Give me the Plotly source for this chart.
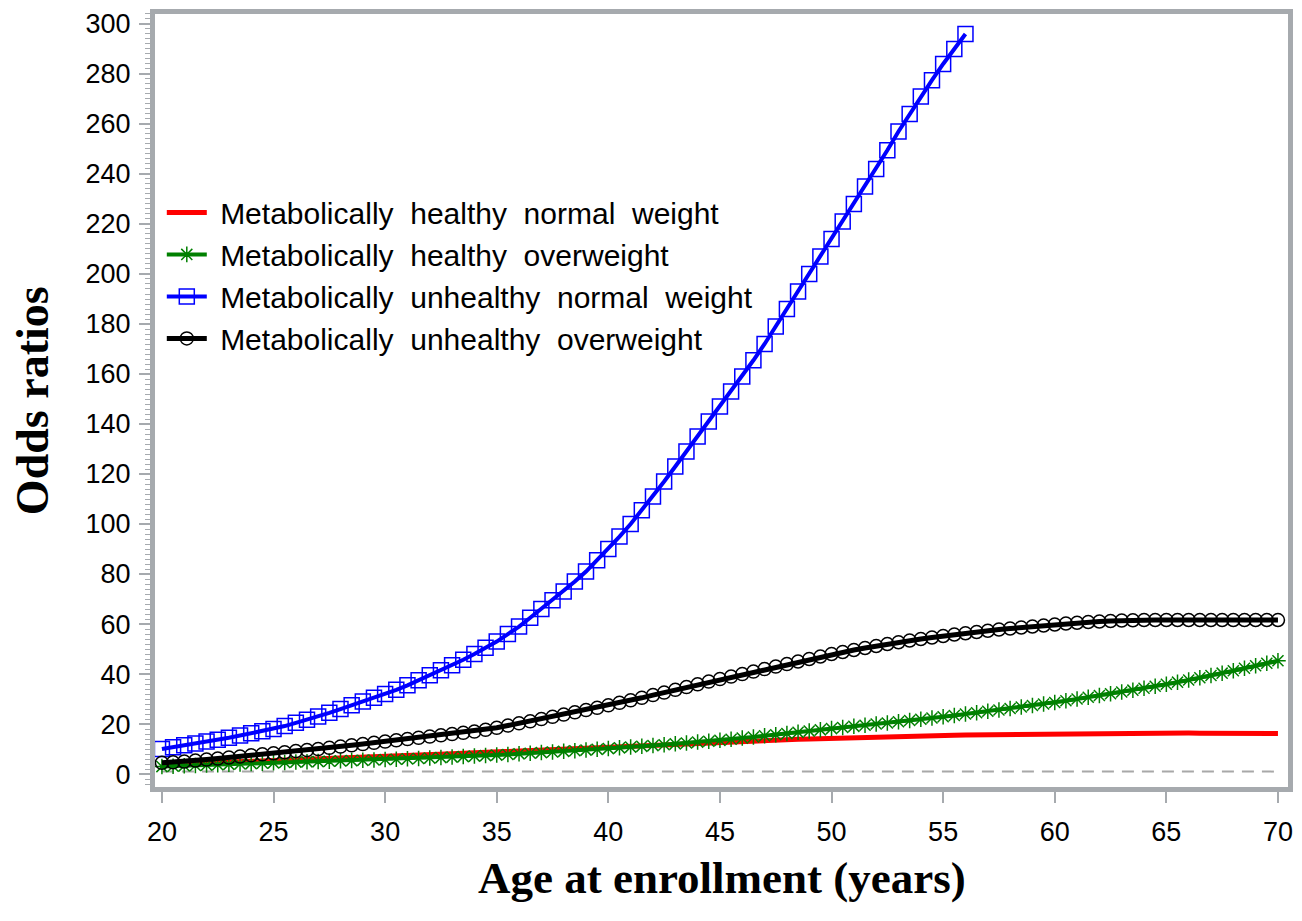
import plotly.graph_objects as go

# ---------------- data ----------------
ages = [20 + 0.5 * i for i in range(101)]          # 20.0 .. 70.0
ages_blue = ages[:73]                              # 20.0 .. 56.0

healthy_normal = [
    3.8, 3.95, 4.1, 4.25, 4.4, 4.55, 4.7, 4.85, 5.0, 5.15,
    5.3, 5.45, 5.6, 5.75, 5.9, 6.05, 6.2, 6.4, 6.55, 6.7,
    6.9, 7.1, 7.3, 7.5, 7.7, 7.9, 8.1, 8.3, 8.5, 8.75,
    9.0, 9.2, 9.4, 9.6, 9.8, 10.0, 10.2, 10.4, 10.6, 10.8,
    11.0, 11.2, 11.4, 11.6, 11.8, 12.0, 12.2, 12.4, 12.55, 12.7,
    12.9, 13.05, 13.2, 13.35, 13.5, 13.65, 13.8, 13.95, 14.05, 14.2,
    14.3, 14.4, 14.5, 14.6, 14.7, 14.8, 14.9, 15.0, 15.1, 15.25,
    15.4, 15.5, 15.6, 15.65, 15.75, 15.85, 15.9, 16.0, 16.05, 16.1,
    16.2, 16.25, 16.3, 16.3, 16.35, 16.35, 16.4, 16.4, 16.4, 16.4,
    16.4, 16.4, 16.4, 16.35, 16.35, 16.3, 16.3, 16.25, 16.25, 16.2, 16.2,
]

healthy_over = [
    3.0, 3.15, 3.3, 3.45, 3.6, 3.75, 3.9, 4.05, 4.2, 4.35,
    4.5, 4.65, 4.8, 4.9, 5.0, 5.15, 5.3, 5.4, 5.5, 5.65,
    5.8, 5.95, 6.1, 6.25, 6.4, 6.6, 6.8, 7.0, 7.2, 7.4,
    7.6, 7.85, 8.1, 8.35, 8.6, 8.85, 9.1, 9.35, 9.6, 9.9,
    10.2, 10.5, 10.8, 11.1, 11.4, 11.75, 12.1, 12.45, 12.8, 13.15,
    13.5, 13.95, 14.4, 14.85, 15.3, 15.75, 16.2, 16.7, 17.2, 17.7,
    18.2, 18.65, 19.1, 19.55, 20.0, 20.45, 20.9, 21.4, 21.9, 22.4,
    22.9, 23.45, 24.0, 24.55, 25.1, 25.65, 26.2, 26.8, 27.4, 28.0,
    28.6, 29.3, 30.0, 30.7, 31.4, 32.1, 32.8, 33.55, 34.3, 35.1,
    35.9, 36.75, 37.6, 38.5, 39.4, 40.35, 41.3, 42.3, 43.3, 44.3, 45.3,
]

unhealthy_normal = [
    10, 10.7, 11.5, 12.2, 13, 13.7, 14.5, 15.4, 16.3, 17.1,
    18, 19.2, 20.5, 21.7, 23, 24.5, 26, 27.5, 29, 30.5,
    32, 33.7, 35.5, 37.5, 39.5, 41.5, 43.5, 45.7, 48, 50.5,
    53, 56, 59, 62.5, 66, 69.5, 73, 77, 81, 85.5,
    90, 95, 100, 105.5, 111, 117, 123, 129, 135, 141,
    147, 153, 159, 165.5, 172, 179, 186, 193, 200, 207,
    214, 221, 228, 235, 242, 249.5, 257, 264, 271, 277.5,
    284, 290, 296,
]

unhealthy_over = [
    4.5, 4.7, 5.0, 5.4, 5.8, 6.2, 6.6, 7.0, 7.5, 7.9,
    8.3, 8.7, 9.2, 9.6, 10.0, 10.5, 11.0, 11.5, 12.0, 12.5,
    13.0, 13.5, 14.0, 14.5, 15.0, 15.5, 16.0, 16.5, 17.0, 17.7,
    18.5, 19.4, 20.3, 21.1, 22.0, 22.9, 23.8, 24.7, 25.6, 26.5,
    27.5, 28.5, 29.5, 30.5, 31.6, 32.6, 33.7, 34.8, 35.9, 37.0,
    38, 39, 40, 41, 42, 43, 44, 45, 46, 47,
    48.0, 48.8, 49.6, 50.4, 51.2, 52.0, 52.7, 53.4, 54.0, 54.6,
    55.2, 55.8, 56.3, 56.8, 57.3, 57.8, 58.2, 58.6, 59.0, 59.4,
    59.8, 60.2, 60.5, 60.8, 61.0, 61.2, 61.4, 61.5, 61.6, 61.6,
    61.6, 61.6, 61.6, 61.6, 61.6, 61.6, 61.6, 61.6, 61.6, 61.6, 61.6,
]

series_names = [
    "Metabolically healthy normal weight",
    "Metabolically healthy overweight",
    "Metabolically unhealthy normal weight",
    "Metabolically unhealthy overweight",
]

x_ticks = [20, 25, 30, 35, 40, 45, 50, 55, 60, 65, 70]
y_ticks = list(range(0, 301, 20))
reference_or = 1


def legend_label(s):
    # SAS-style wide word spacing in the legend
    return "\u00a0" + s.replace(" ", "\u00a0 ")


# ---------------- figure ----------------
AX = "#A6AAAE"
fig = go.Figure()

fig.add_trace(go.Scatter(
    x=ages, y=healthy_normal, name=legend_label(series_names[0]), mode="lines",
    line=dict(color="#FF0000", width=5), legendgroup="a"))
fig.add_trace(go.Scatter(
    x=ages, y=healthy_over, name=legend_label(series_names[1]), mode="lines+markers",
    line=dict(color="#008000", width=4),
    marker=dict(symbol="asterisk-open", size=13, color="#008000",
                line=dict(color="#008000", width=1.5)), legendgroup="b"))
fig.add_trace(go.Scatter(
    x=ages_blue, y=unhealthy_normal, name=legend_label(series_names[2]), mode="lines+markers",
    line=dict(color="#0000FF", width=4),
    marker=dict(symbol="square-open", size=15, color="#0000FF",
                line=dict(color="#0000FF", width=1.5)), legendgroup="c"))
fig.add_trace(go.Scatter(
    x=ages, y=unhealthy_over, name=legend_label(series_names[3]), mode="lines+markers",
    line=dict(color="#000000", width=5),
    marker=dict(symbol="circle-open", size=13, color="#000000",
                line=dict(color="#000000", width=1.5)), legendgroup="d"))

fig.add_shape(type="line", xref="x", yref="y", x0=20, x1=70,
              y0=reference_or, y1=reference_or, layer="below",
              line=dict(color="#A8A8A8", width=2, dash="12px,8px"))

fig.update_layout(
    width=1302, height=921,
    margin=dict(l=155, r=9, t=9, b=134),
    paper_bgcolor="white", plot_bgcolor="white",
    font=dict(family="Liberation Sans, Arial, sans-serif", size=27, color="black"),
    showlegend=True,
    legend=dict(x=0.006, y=0.777, xanchor="left", yanchor="top",
                bgcolor="rgba(0,0,0,0)", borderwidth=0,
                font=dict(size=30, color="black"),
                traceorder="grouped", tracegroupgap=0,
                itemwidth=40),
    xaxis=dict(range=[19.69, 70.45], tickvals=x_ticks, showgrid=False,
               zeroline=False, showline=True, linecolor=AX, linewidth=5,
               mirror=True, ticks="outside", ticklen=11, tickwidth=2,
               tickcolor=AX, tickfont=dict(size=27, color="black"),
               ticklabelstandoff=6),
    yaxis=dict(range=[-5.17, 303.98], tickvals=y_ticks, showgrid=False,
               zeroline=False, showline=True, linecolor=AX, linewidth=5,
               mirror=True, ticks="outside", ticklen=11, tickwidth=2,
               tickcolor=AX, tickfont=dict(size=27, color="black"),
               ticklabelstandoff=3,
               minor=dict(dtick=2, ticks="outside", ticklen=5, tickwidth=1,
                          tickcolor=AX, showgrid=False)),
    annotations=[
        dict(text="<b>Age at enrollment (years)</b>", xref="paper", yref="paper",
             x=0.5, y=-0.118, xanchor="center", yanchor="middle", showarrow=False,
             font=dict(family="Liberation Serif, Times New Roman, serif", size=45, color="black")),
        dict(text="<b>Odds ratios</b>", xref="paper", yref="paper",
             x=-0.108, y=0.5, xanchor="center", yanchor="middle", showarrow=False,
             textangle=-90,
             font=dict(family="Liberation Serif, Times New Roman, serif", size=46, color="black")),
    ],
)

fig.write_html("out.html")
